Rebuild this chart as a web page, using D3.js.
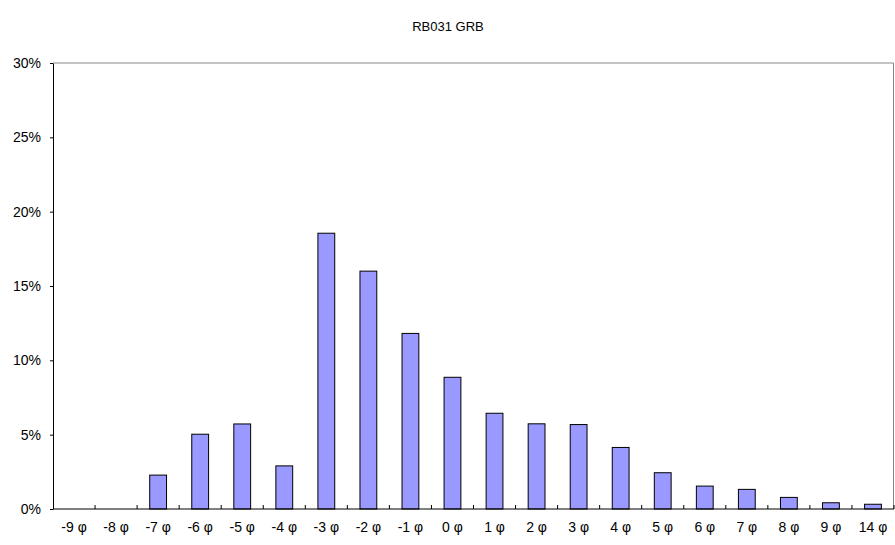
<!DOCTYPE html>
<html lang="en">
<head>
<meta charset="UTF-8">
<title>RB031 GRB</title>
<script src="https://d3js.org/d3.v7.min.js"></script>
<style>
    body { margin: 0; background: #fff; }
    text { font-family: Arial, "Liberation Sans", sans-serif; }
</style>
</head>
<body>
<script>
    var categories = ["-9 φ", "-8 φ", "-7 φ", "-6 φ", "-5 φ", "-4 φ", "-3 φ", "-2 φ", "-1 φ", "0 φ",
        "1 φ", "2 φ", "3 φ", "4 φ", "5 φ", "6 φ", "7 φ", "8 φ", "9 φ", "14 φ"];
    var percents = [0, 0, 2.28, 5.03, 5.72, 2.9, 18.55, 16.0, 11.81, 8.86,
        6.44, 5.73, 5.68, 4.14, 2.44, 1.54, 1.32, 0.78, 0.42, 0.32];
    var yTicks = [0, 5, 10, 15, 20, 25, 30];

    var width = 895, height = 545;
    var margin = {top: 63, right: 1, bottom: 36, left: 53};

    var svg = d3.select("body").append("svg")
        .attr("width", width)
        .attr("height", height);

    var x = d3.scaleBand()
        .domain(categories)
        .range([margin.left, width - margin.right])
        .paddingInner(0.6)
        .paddingOuter(0.3);

    var y = d3.scaleLinear()
        .domain([0, 30])
        .range([height - margin.bottom, margin.top]);

    svg.append("text")
        .attr("x", 448)
        .attr("y", 31)
        .attr("text-anchor", "middle")
        .attr("font-size", 13)
        .text("RB031 GRB");

    // plot area border (grey top & right)
    svg.append("path")
        .attr("d", "M" + margin.left + "," + y(30) + "H" + (width - margin.right - 0.5) + "V" + y(0))
        .attr("fill", "none")
        .attr("stroke", "#888")
        .attr("stroke-width", 1);

    svg.selectAll(".bar")
        .data(percents)
        .enter()
        .append("rect")
        .attr("class", "bar")
        .attr("x", function (d, i) { return x(categories[i]); })
        .attr("width", x.bandwidth())
        .attr("y", function (d) { return y(d); })
        .attr("height", function (d) { return y(0) - y(d); })
        .attr("fill", "#9999ff")
        .attr("stroke", "#000")
        .attr("stroke-width", 1)
        .style("display", function (d) { return d > 0 ? null : "none"; });

    // y axis
    var yAxis = svg.append("g")
        .attr("transform", "translate(" + margin.left + ",0)")
        .call(d3.axisLeft(y).tickValues(yTicks).tickSize(3).tickSizeOuter(0)
            .tickFormat(function (d) { return d + "%"; }));
    yAxis.select(".domain").attr("stroke", "#000");
    yAxis.selectAll("text").attr("font-size", 14).attr("fill", "#000").attr("x", -12);

    // x axis: ticks at band boundaries pointing up
    var step = x.step();
    var boundaries = d3.range(categories.length + 1).map(function (i) {
        return margin.left + i * step;
    });
    var xg = svg.append("g");
    xg.append("line")
        .attr("x1", margin.left).attr("x2", width - margin.right)
        .attr("y1", y(0)).attr("y2", y(0))
        .attr("stroke", "#000");
    xg.selectAll(".xt")
        .data(boundaries.slice(1))
        .enter()
        .append("line")
        .attr("x1", function (d) { return d; })
        .attr("x2", function (d) { return d; })
        .attr("y1", y(0))
        .attr("y2", y(0) - 4)
        .attr("stroke", "#000");
    xg.selectAll(".xl")
        .data(categories)
        .enter()
        .append("text")
        .attr("x", function (d) { return x(d) + x.bandwidth() / 2; })
        .attr("y", y(0) + 23)
        .attr("text-anchor", "middle")
        .attr("font-size", 14)
        .text(function (d) { return d; });
</script>
</body>
</html>
